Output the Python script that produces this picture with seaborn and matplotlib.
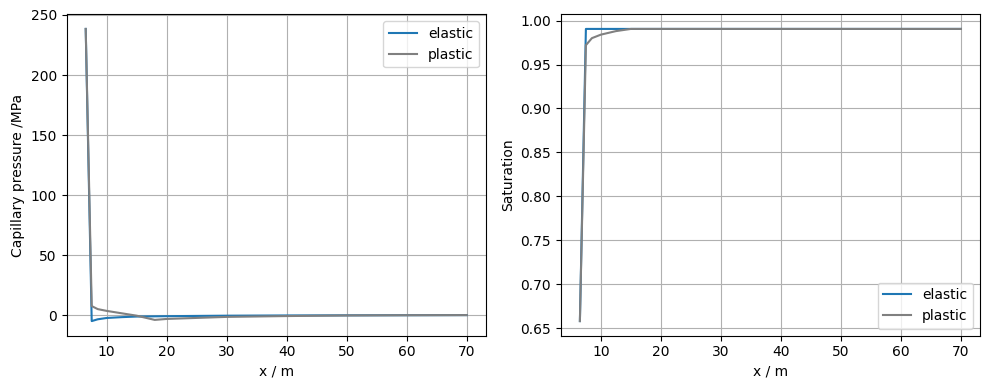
import matplotlib
matplotlib.use("Agg")
import matplotlib.pyplot as plt
import seaborn as sns

x_elastic = [6.5, 7.5, 8.5, 10, 12.5, 15, 20, 30, 40, 50, 60, 70]
pc_elastic = [238.4, -5.0, -3.5, -2.4, -1.7, -1.2, -0.9, -0.5, -0.3, -0.2, -0.1, 0.0]
s_elastic = [0.658, 0.9905, 0.9905, 0.9905, 0.9905, 0.9905, 0.9905, 0.9905, 0.9905, 0.9905, 0.9905, 0.9905]

x_plastic = [6.5, 7.5, 8.5, 10, 12.5, 15, 18, 20, 30, 40, 50, 60, 70]
pc_plastic = [238.4, 7.5, 5.0, 3.5, 1.5, -0.5, -4.0, -3.2, -1.5, -0.8, -0.3, -0.1, 0.0]
s_plastic = [0.658, 0.972, 0.980, 0.984, 0.988, 0.9905, 0.9905, 0.9905, 0.9905, 0.9905, 0.9905, 0.9905, 0.9905]

fig, axes = plt.subplots(1, 2, figsize=(9.89, 3.89), dpi=100)
fig.subplots_adjust(left=0.0674, right=0.9909, top=0.9632, bottom=0.137, wspace=0.179)

ax = axes[0]
sns.lineplot(x=x_elastic, y=pc_elastic, ax=ax, color="tab:blue", label="elastic")
sns.lineplot(x=x_plastic, y=pc_plastic, ax=ax, color="grey", label="plastic")
ax.set_xlabel("x / m")
ax.set_ylabel("Capillary pressure /MPa")
ax.grid(True)
ax.legend(loc="upper right")

ax = axes[1]
sns.lineplot(x=x_elastic, y=s_elastic, ax=ax, color="tab:blue", label="elastic")
sns.lineplot(x=x_plastic, y=s_plastic, ax=ax, color="grey", label="plastic")
ax.set_xlabel("x / m")
ax.set_ylabel("Saturation")
ax.grid(True)
ax.legend(loc="lower right")

fig.savefig("out.png", dpi=100)
